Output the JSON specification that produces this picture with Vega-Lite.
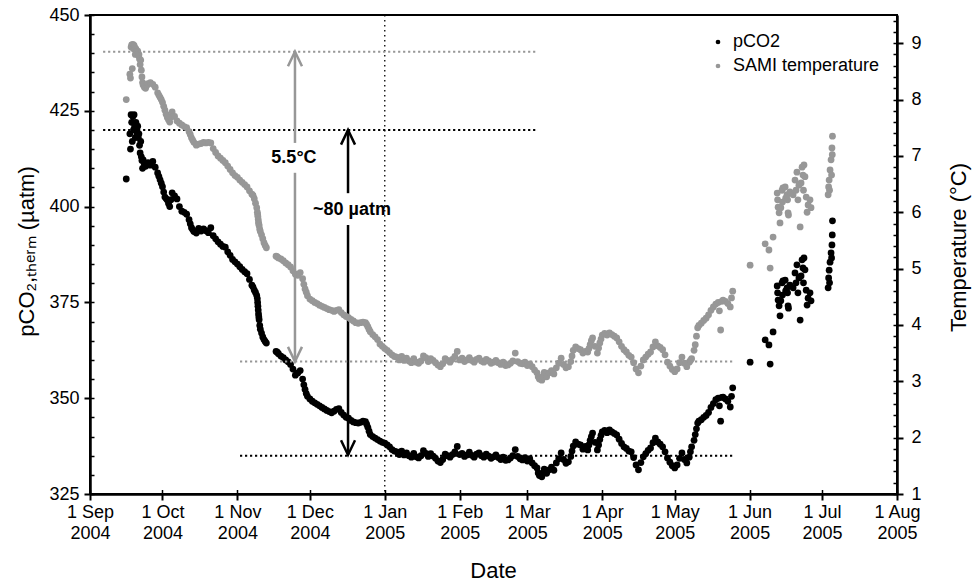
{
  "$schema": "https://vega.github.io/schema/vega-lite/v6.json",
  "width": 807,
  "height": 479,
  "autosize": {"type": "none"},
  "padding": {"left": 90, "top": 15, "right": 75, "bottom": 92},
  "background": "#ffffff",
  "config": {
    "font": "Liberation Sans",
    "view": {"stroke": "#000000", "strokeWidth": 2},
    "axis": {
      "grid": false,
      "domainColor": "#000000",
      "tickColor": "#000000",
      "labelColor": "#000000",
      "titleColor": "#000000",
      "labelFont": "Liberation Sans",
      "titleFont": "Liberation Sans",
      "labelFontSize": 18,
      "titleFontSize": 22,
      "titleFontWeight": "normal",
      "domainWidth": 2.5,
      "tickWidth": 2
    },
    "legend": {"labelFont": "Liberation Sans", "labelColor": "#000000"}
  },
  "datasets": {
    "series": [
      {"date": "2004-09-16T00:00", "pco2": 407.2, "temp": 8.0},
      {"date": "2004-09-17T12:00", "pco2": 419, "temp": 8.45},
      {"date": "2004-09-17T18:00", "pco2": 415, "temp": 8.38},
      {"date": "2004-09-18T00:00", "pco2": 424, "temp": 8.93},
      {"date": "2004-09-18T06:00", "pco2": 422, "temp": 8.97},
      {"date": "2004-09-18T12:00", "pco2": 417, "temp": 8.55},
      {"date": "2004-09-18T18:00", "pco2": 423.5, "temp": 8.98},
      {"date": "2004-09-19T00:00", "pco2": 420, "temp": 8.9},
      {"date": "2004-09-19T06:00", "pco2": 424, "temp": 8.96},
      {"date": "2004-09-19T12:00", "pco2": 421, "temp": 8.92},
      {"date": "2004-09-19T18:00", "pco2": 418, "temp": 8.8},
      {"date": "2004-09-20T00:00", "pco2": 422, "temp": 8.9},
      {"date": "2004-09-20T06:00", "pco2": 420, "temp": 8.85},
      {"date": "2004-09-20T12:00", "pco2": 419, "temp": 8.82},
      {"date": "2004-09-20T18:00", "pco2": 421, "temp": 8.86},
      {"date": "2004-09-21T00:00", "pco2": 418, "temp": 8.78},
      {"date": "2004-09-21T06:00", "pco2": 419, "temp": 8.8},
      {"date": "2004-09-21T12:00", "pco2": 416, "temp": 8.72},
      {"date": "2004-09-21T18:00", "pco2": 414, "temp": 8.62},
      {"date": "2004-09-22T00:00", "pco2": 417, "temp": 8.7},
      {"date": "2004-09-22T06:00", "pco2": 413, "temp": 8.52},
      {"date": "2004-09-22T12:00", "pco2": 412, "temp": 8.4},
      {"date": "2004-09-22T18:00", "pco2": 410, "temp": 8.3},
      {"date": "2004-09-23T00:00", "pco2": 412.2, "temp": 8.26},
      {"date": "2004-09-23T12:00", "pco2": 411.0, "temp": 8.22},
      {"date": "2004-09-24T00:00", "pco2": 410.5, "temp": 8.2},
      {"date": "2004-09-24T12:00", "pco2": 411.2, "temp": 8.25},
      {"date": "2004-09-25T00:00", "pco2": 411.5, "temp": 8.28},
      {"date": "2004-09-26T00:00", "pco2": 410.8, "temp": 8.3},
      {"date": "2004-09-27T00:00", "pco2": 411.8, "temp": 8.27},
      {"date": "2004-09-28T00:00", "pco2": 410.3, "temp": 8.22},
      {"date": "2004-09-29T00:00", "pco2": 408.8, "temp": 8.12},
      {"date": "2004-09-29T12:00", "pco2": 407.9, "temp": 8.08},
      {"date": "2004-09-30T00:00", "pco2": 407.0, "temp": 8.04},
      {"date": "2004-09-30T12:00", "pco2": 406.1, "temp": 8.0},
      {"date": "2004-10-01T00:00", "pco2": 405.2, "temp": 7.95},
      {"date": "2004-10-01T12:00", "pco2": 403.8, "temp": 7.88},
      {"date": "2004-10-02T00:00", "pco2": 402.5, "temp": 7.81},
      {"date": "2004-10-02T12:00", "pco2": 402.1, "temp": 7.74},
      {"date": "2004-10-03T00:00", "pco2": 401.7, "temp": 7.68},
      {"date": "2004-10-03T12:00", "pco2": 400.8, "temp": 7.64},
      {"date": "2004-10-04T00:00", "pco2": 400.0, "temp": 7.6},
      {"date": "2004-10-04T12:00", "pco2": 401.8, "temp": 7.69},
      {"date": "2004-10-05T00:00", "pco2": 403.6, "temp": 7.78},
      {"date": "2004-10-06T00:00", "pco2": 402.8, "temp": 7.7},
      {"date": "2004-10-07T00:00", "pco2": 402.0, "temp": 7.62},
      {"date": "2004-10-08T00:00", "pco2": 400.0, "temp": 7.58},
      {"date": "2004-10-09T00:00", "pco2": 398.8, "temp": 7.55},
      {"date": "2004-10-10T00:00", "pco2": 398.5, "temp": 7.52},
      {"date": "2004-10-11T00:00", "pco2": 398.0, "temp": 7.5},
      {"date": "2004-10-12T00:00", "pco2": 396.6, "temp": 7.43},
      {"date": "2004-10-12T12:00", "pco2": 395.5, "temp": 7.38},
      {"date": "2004-10-13T00:00", "pco2": 394.5, "temp": 7.32},
      {"date": "2004-10-13T12:00", "pco2": 394.0, "temp": 7.28},
      {"date": "2004-10-14T00:00", "pco2": 393.5, "temp": 7.24},
      {"date": "2004-10-15T00:00", "pco2": 393.1, "temp": 7.19},
      {"date": "2004-10-16T00:00", "pco2": 394.3, "temp": 7.21},
      {"date": "2004-10-17T00:00", "pco2": 393.6, "temp": 7.22},
      {"date": "2004-10-18T00:00", "pco2": 394.2, "temp": 7.24},
      {"date": "2004-10-19T00:00", "pco2": 393.7, "temp": 7.23},
      {"date": "2004-10-20T00:00", "pco2": 393.2, "temp": 7.24},
      {"date": "2004-10-21T00:00", "pco2": 394.5, "temp": 7.23},
      {"date": "2004-10-22T00:00", "pco2": 392.4, "temp": 7.13},
      {"date": "2004-10-23T00:00", "pco2": 391.6, "temp": 7.06},
      {"date": "2004-10-24T00:00", "pco2": 390.8, "temp": 7.0},
      {"date": "2004-10-25T00:00", "pco2": 390.2, "temp": 6.96},
      {"date": "2004-10-26T00:00", "pco2": 389.6, "temp": 6.92},
      {"date": "2004-10-27T00:00", "pco2": 389.4, "temp": 6.88},
      {"date": "2004-10-28T00:00", "pco2": 388.2, "temp": 6.82},
      {"date": "2004-10-29T00:00", "pco2": 387.3, "temp": 6.76},
      {"date": "2004-10-30T00:00", "pco2": 386.2, "temp": 6.7},
      {"date": "2004-10-31T00:00", "pco2": 385.6, "temp": 6.65},
      {"date": "2004-11-01T00:00", "pco2": 385.0, "temp": 6.62},
      {"date": "2004-11-02T00:00", "pco2": 384.3, "temp": 6.57},
      {"date": "2004-11-03T00:00", "pco2": 383.6, "temp": 6.53},
      {"date": "2004-11-04T00:00", "pco2": 383.0, "temp": 6.49},
      {"date": "2004-11-05T00:00", "pco2": 382.5, "temp": 6.45},
      {"date": "2004-11-06T00:00", "pco2": 381.0, "temp": 6.38},
      {"date": "2004-11-07T00:00", "pco2": 379.5, "temp": 6.32},
      {"date": "2004-11-07T12:00", "pco2": 379.0, "temp": 6.3},
      {"date": "2004-11-08T00:00", "pco2": 378.2, "temp": 6.24},
      {"date": "2004-11-08T12:00", "pco2": 377.6, "temp": 6.16},
      {"date": "2004-11-09T00:00", "pco2": 376.8, "temp": 6.08},
      {"date": "2004-11-09T06:00", "pco2": 376.0, "temp": 6.0},
      {"date": "2004-11-09T09:00", "pco2": 375.0, "temp": 5.96},
      {"date": "2004-11-09T12:00", "pco2": 374.0, "temp": 5.92},
      {"date": "2004-11-09T15:00", "pco2": 373.0, "temp": 5.87},
      {"date": "2004-11-09T18:00", "pco2": 372.0, "temp": 5.82},
      {"date": "2004-11-09T21:00", "pco2": 371.2, "temp": 5.79},
      {"date": "2004-11-10T00:00", "pco2": 370.5, "temp": 5.76},
      {"date": "2004-11-10T06:00", "pco2": 369.0, "temp": 5.7},
      {"date": "2004-11-10T12:00", "pco2": 368.0, "temp": 5.66},
      {"date": "2004-11-11T00:00", "pco2": 367.0, "temp": 5.6},
      {"date": "2004-11-11T12:00", "pco2": 366.0, "temp": 5.53},
      {"date": "2004-11-12T00:00", "pco2": 365.3, "temp": 5.46},
      {"date": "2004-11-12T12:00", "pco2": 364.8, "temp": 5.41},
      {"date": "2004-11-13T00:00", "pco2": 364.4, "temp": 5.37},
      {"date": "2004-11-17T00:00", "pco2": 362.2, "temp": 5.22},
      {"date": "2004-11-17T12:00", "pco2": 362.0, "temp": 5.21},
      {"date": "2004-11-18T00:00", "pco2": 361.6, "temp": 5.19},
      {"date": "2004-11-19T00:00", "pco2": 361.0, "temp": 5.17},
      {"date": "2004-11-20T00:00", "pco2": 360.6, "temp": 5.14},
      {"date": "2004-11-21T00:00", "pco2": 360.0, "temp": 5.1},
      {"date": "2004-11-22T00:00", "pco2": 359.5, "temp": 5.07},
      {"date": "2004-11-23T00:00", "pco2": 358.8, "temp": 5.03},
      {"date": "2004-11-24T00:00", "pco2": 357.6, "temp": 4.96},
      {"date": "2004-11-25T00:00", "pco2": 356.0, "temp": 4.9},
      {"date": "2004-11-26T00:00", "pco2": 356.6, "temp": 4.88},
      {"date": "2004-11-27T00:00", "pco2": 357.2, "temp": 4.93},
      {"date": "2004-11-28T00:00", "pco2": 355.0, "temp": 4.82},
      {"date": "2004-11-28T12:00", "pco2": 353.5, "temp": 4.72},
      {"date": "2004-11-29T00:00", "pco2": 352.3, "temp": 4.64},
      {"date": "2004-11-29T12:00", "pco2": 351.2, "temp": 4.58},
      {"date": "2004-11-30T00:00", "pco2": 350.5, "temp": 4.52},
      {"date": "2004-12-01T00:00", "pco2": 349.8, "temp": 4.46},
      {"date": "2004-12-02T00:00", "pco2": 349.2, "temp": 4.43},
      {"date": "2004-12-03T00:00", "pco2": 348.8, "temp": 4.4},
      {"date": "2004-12-04T00:00", "pco2": 348.4, "temp": 4.38},
      {"date": "2004-12-05T00:00", "pco2": 348.0, "temp": 4.35},
      {"date": "2004-12-06T00:00", "pco2": 347.6, "temp": 4.33},
      {"date": "2004-12-07T00:00", "pco2": 347.2, "temp": 4.31},
      {"date": "2004-12-08T00:00", "pco2": 346.8, "temp": 4.29},
      {"date": "2004-12-09T00:00", "pco2": 346.5, "temp": 4.27},
      {"date": "2004-12-10T00:00", "pco2": 346.2, "temp": 4.26},
      {"date": "2004-12-11T00:00", "pco2": 346.6, "temp": 4.24},
      {"date": "2004-12-12T00:00", "pco2": 347.1, "temp": 4.26},
      {"date": "2004-12-13T00:00", "pco2": 347.3, "temp": 4.27},
      {"date": "2004-12-14T00:00", "pco2": 346.3, "temp": 4.22},
      {"date": "2004-12-15T00:00", "pco2": 345.6, "temp": 4.18},
      {"date": "2004-12-16T00:00", "pco2": 345.0, "temp": 4.15},
      {"date": "2004-12-17T00:00", "pco2": 344.8, "temp": 4.13},
      {"date": "2004-12-18T00:00", "pco2": 344.2, "temp": 4.1},
      {"date": "2004-12-19T00:00", "pco2": 343.8, "temp": 4.07},
      {"date": "2004-12-20T00:00", "pco2": 343.6, "temp": 4.04},
      {"date": "2004-12-21T00:00", "pco2": 343.5, "temp": 4.03},
      {"date": "2004-12-22T00:00", "pco2": 343.7, "temp": 4.04},
      {"date": "2004-12-23T00:00", "pco2": 344.0, "temp": 4.05},
      {"date": "2004-12-24T00:00", "pco2": 343.9, "temp": 4.04},
      {"date": "2004-12-24T12:00", "pco2": 343.2, "temp": 4.01},
      {"date": "2004-12-25T00:00", "pco2": 342.4, "temp": 3.97},
      {"date": "2004-12-25T12:00", "pco2": 341.4, "temp": 3.92},
      {"date": "2004-12-26T00:00", "pco2": 340.5, "temp": 3.88},
      {"date": "2004-12-27T00:00", "pco2": 340.0, "temp": 3.83},
      {"date": "2004-12-28T00:00", "pco2": 339.6, "temp": 3.79},
      {"date": "2004-12-29T00:00", "pco2": 339.2, "temp": 3.74},
      {"date": "2004-12-30T00:00", "pco2": 338.8, "temp": 3.66},
      {"date": "2004-12-31T00:00", "pco2": 338.5, "temp": 3.62},
      {"date": "2005-01-01T00:00", "pco2": 338.3, "temp": 3.58},
      {"date": "2005-01-02T00:00", "pco2": 337.8, "temp": 3.55},
      {"date": "2005-01-03T00:00", "pco2": 337.3, "temp": 3.51},
      {"date": "2005-01-04T00:00", "pco2": 336.6, "temp": 3.47},
      {"date": "2005-01-05T00:00", "pco2": 336.2, "temp": 3.44},
      {"date": "2005-01-06T00:00", "pco2": 336.0, "temp": 3.43},
      {"date": "2005-01-07T00:00", "pco2": 335.3, "temp": 3.38},
      {"date": "2005-01-08T00:00", "pco2": 336.2, "temp": 3.44},
      {"date": "2005-01-09T00:00", "pco2": 335.2, "temp": 3.37},
      {"date": "2005-01-10T00:00", "pco2": 335.7, "temp": 3.41},
      {"date": "2005-01-11T00:00", "pco2": 335.0, "temp": 3.36},
      {"date": "2005-01-12T00:00", "pco2": 334.6, "temp": 3.33},
      {"date": "2005-01-13T00:00", "pco2": 335.6, "temp": 3.4},
      {"date": "2005-01-14T00:00", "pco2": 334.7, "temp": 3.34},
      {"date": "2005-01-15T00:00", "pco2": 334.4, "temp": 3.32},
      {"date": "2005-01-16T00:00", "pco2": 335.0, "temp": 3.36},
      {"date": "2005-01-17T00:00", "pco2": 336.3, "temp": 3.45},
      {"date": "2005-01-18T00:00", "pco2": 335.6, "temp": 3.42},
      {"date": "2005-01-19T00:00", "pco2": 334.8, "temp": 3.35},
      {"date": "2005-01-20T00:00", "pco2": 335.5, "temp": 3.4},
      {"date": "2005-01-21T00:00", "pco2": 334.9, "temp": 3.37},
      {"date": "2005-01-22T00:00", "pco2": 334.3, "temp": 3.33},
      {"date": "2005-01-23T00:00", "pco2": 333.6, "temp": 3.29},
      {"date": "2005-01-24T00:00", "pco2": 333.2, "temp": 3.26},
      {"date": "2005-01-25T00:00", "pco2": 334.0, "temp": 3.31},
      {"date": "2005-01-26T00:00", "pco2": 335.4, "temp": 3.4},
      {"date": "2005-01-27T00:00", "pco2": 335.0, "temp": 3.37},
      {"date": "2005-01-28T00:00", "pco2": 334.6, "temp": 3.34},
      {"date": "2005-01-29T00:00", "pco2": 335.3, "temp": 3.39},
      {"date": "2005-01-30T00:00", "pco2": 336.0, "temp": 3.44},
      {"date": "2005-01-31T00:00", "pco2": 337.4, "temp": 3.53},
      {"date": "2005-02-01T00:00", "pco2": 335.3, "temp": 3.38},
      {"date": "2005-02-02T00:00", "pco2": 335.6, "temp": 3.41},
      {"date": "2005-02-03T00:00", "pco2": 334.8, "temp": 3.35},
      {"date": "2005-02-04T00:00", "pco2": 335.2, "temp": 3.38},
      {"date": "2005-02-05T00:00", "pco2": 335.9, "temp": 3.42},
      {"date": "2005-02-06T00:00", "pco2": 335.1, "temp": 3.37},
      {"date": "2005-02-07T00:00", "pco2": 334.6, "temp": 3.34},
      {"date": "2005-02-08T00:00", "pco2": 335.4, "temp": 3.39},
      {"date": "2005-02-09T00:00", "pco2": 335.7, "temp": 3.41},
      {"date": "2005-02-10T00:00", "pco2": 335.0, "temp": 3.36},
      {"date": "2005-02-11T00:00", "pco2": 334.6, "temp": 3.34},
      {"date": "2005-02-12T00:00", "pco2": 335.4, "temp": 3.39},
      {"date": "2005-02-13T00:00", "pco2": 334.9, "temp": 3.36},
      {"date": "2005-02-14T00:00", "pco2": 334.3, "temp": 3.32},
      {"date": "2005-02-15T00:00", "pco2": 334.7, "temp": 3.34},
      {"date": "2005-02-16T00:00", "pco2": 335.2, "temp": 3.37},
      {"date": "2005-02-17T00:00", "pco2": 334.5, "temp": 3.33},
      {"date": "2005-02-18T00:00", "pco2": 334.0, "temp": 3.3},
      {"date": "2005-02-19T00:00", "pco2": 334.6, "temp": 3.34},
      {"date": "2005-02-20T00:00", "pco2": 333.8, "temp": 3.28},
      {"date": "2005-02-21T00:00", "pco2": 333.9, "temp": 3.29},
      {"date": "2005-02-22T00:00", "pco2": 334.4, "temp": 3.32},
      {"date": "2005-02-23T00:00", "pco2": 335.0, "temp": 3.36},
      {"date": "2005-02-24T00:00", "pco2": 336.6, "temp": 3.5},
      {"date": "2005-02-25T00:00", "pco2": 334.8, "temp": 3.35},
      {"date": "2005-02-26T00:00", "pco2": 334.2, "temp": 3.32},
      {"date": "2005-02-27T00:00", "pco2": 333.9, "temp": 3.31},
      {"date": "2005-02-28T00:00", "pco2": 334.5, "temp": 3.34},
      {"date": "2005-03-01T00:00", "pco2": 333.6, "temp": 3.28},
      {"date": "2005-03-02T00:00", "pco2": 334.2, "temp": 3.31},
      {"date": "2005-03-03T00:00", "pco2": 333.1, "temp": 3.26},
      {"date": "2005-03-04T00:00", "pco2": 332.4, "temp": 3.2},
      {"date": "2005-03-05T00:00", "pco2": 331.8, "temp": 3.15},
      {"date": "2005-03-05T12:00", "pco2": 330.5, "temp": 3.08},
      {"date": "2005-03-06T00:00", "pco2": 329.8, "temp": 3.04},
      {"date": "2005-03-07T00:00", "pco2": 329.5, "temp": 3.02},
      {"date": "2005-03-07T12:00", "pco2": 330.5, "temp": 3.09},
      {"date": "2005-03-08T00:00", "pco2": 331.5, "temp": 3.16},
      {"date": "2005-03-09T00:00", "pco2": 330.4, "temp": 3.08},
      {"date": "2005-03-10T00:00", "pco2": 331.3, "temp": 3.15},
      {"date": "2005-03-11T00:00", "pco2": 332.0, "temp": 3.19},
      {"date": "2005-03-12T00:00", "pco2": 331.2, "temp": 3.13},
      {"date": "2005-03-13T00:00", "pco2": 333.1, "temp": 3.24},
      {"date": "2005-03-14T00:00", "pco2": 334.2, "temp": 3.32},
      {"date": "2005-03-15T00:00", "pco2": 335.7, "temp": 3.41},
      {"date": "2005-03-16T00:00", "pco2": 334.0, "temp": 3.3},
      {"date": "2005-03-17T00:00", "pco2": 333.0, "temp": 3.24},
      {"date": "2005-03-18T00:00", "pco2": 333.4, "temp": 3.26},
      {"date": "2005-03-19T00:00", "pco2": 334.8, "temp": 3.35},
      {"date": "2005-03-19T12:00", "pco2": 336.2, "temp": 3.45},
      {"date": "2005-03-20T00:00", "pco2": 337.5, "temp": 3.55},
      {"date": "2005-03-21T00:00", "pco2": 338.6, "temp": 3.61},
      {"date": "2005-03-22T00:00", "pco2": 338.0, "temp": 3.58},
      {"date": "2005-03-23T00:00", "pco2": 337.8, "temp": 3.56},
      {"date": "2005-03-24T00:00", "pco2": 336.7, "temp": 3.5},
      {"date": "2005-03-25T00:00", "pco2": 337.4, "temp": 3.53},
      {"date": "2005-03-26T00:00", "pco2": 336.5, "temp": 3.52},
      {"date": "2005-03-26T12:00", "pco2": 337.8, "temp": 3.58},
      {"date": "2005-03-27T00:00", "pco2": 339.0, "temp": 3.65},
      {"date": "2005-03-27T12:00", "pco2": 340.0, "temp": 3.72},
      {"date": "2005-03-28T00:00", "pco2": 340.9, "temp": 3.77},
      {"date": "2005-03-29T00:00", "pco2": 338.5, "temp": 3.62},
      {"date": "2005-03-30T00:00", "pco2": 336.5, "temp": 3.5},
      {"date": "2005-03-30T12:00", "pco2": 337.8, "temp": 3.59},
      {"date": "2005-03-31T00:00", "pco2": 339.2, "temp": 3.68},
      {"date": "2005-03-31T12:00", "pco2": 340.3, "temp": 3.75},
      {"date": "2005-04-01T00:00", "pco2": 341.2, "temp": 3.82},
      {"date": "2005-04-02T00:00", "pco2": 341.6, "temp": 3.85},
      {"date": "2005-04-03T00:00", "pco2": 341.0, "temp": 3.82},
      {"date": "2005-04-04T00:00", "pco2": 341.7, "temp": 3.86},
      {"date": "2005-04-05T00:00", "pco2": 341.2, "temp": 3.83},
      {"date": "2005-04-06T00:00", "pco2": 340.8, "temp": 3.8},
      {"date": "2005-04-07T00:00", "pco2": 340.4, "temp": 3.77},
      {"date": "2005-04-08T00:00", "pco2": 339.3, "temp": 3.7},
      {"date": "2005-04-09T00:00", "pco2": 338.2, "temp": 3.62},
      {"date": "2005-04-10T00:00", "pco2": 337.3, "temp": 3.56},
      {"date": "2005-04-11T00:00", "pco2": 336.9, "temp": 3.52},
      {"date": "2005-04-12T00:00", "pco2": 336.2, "temp": 3.46},
      {"date": "2005-04-13T00:00", "pco2": 336.0, "temp": 3.43},
      {"date": "2005-04-14T00:00", "pco2": 334.5, "temp": 3.33},
      {"date": "2005-04-15T00:00", "pco2": 332.6, "temp": 3.22},
      {"date": "2005-04-16T00:00", "pco2": 331.3, "temp": 3.15},
      {"date": "2005-04-17T00:00", "pco2": 333.2, "temp": 3.27},
      {"date": "2005-04-18T00:00", "pco2": 334.7, "temp": 3.38},
      {"date": "2005-04-19T00:00", "pco2": 335.5, "temp": 3.43},
      {"date": "2005-04-20T00:00", "pco2": 336.4, "temp": 3.48},
      {"date": "2005-04-21T00:00", "pco2": 337.0, "temp": 3.52},
      {"date": "2005-04-22T00:00", "pco2": 338.4, "temp": 3.61},
      {"date": "2005-04-23T00:00", "pco2": 339.6, "temp": 3.7},
      {"date": "2005-04-24T00:00", "pco2": 338.6, "temp": 3.63},
      {"date": "2005-04-25T00:00", "pco2": 338.0, "temp": 3.6},
      {"date": "2005-04-26T00:00", "pco2": 337.3, "temp": 3.56},
      {"date": "2005-04-27T00:00", "pco2": 336.0, "temp": 3.47},
      {"date": "2005-04-28T00:00", "pco2": 334.4, "temp": 3.34},
      {"date": "2005-04-29T00:00", "pco2": 333.3, "temp": 3.27},
      {"date": "2005-04-30T00:00", "pco2": 332.4, "temp": 3.21},
      {"date": "2005-05-01T00:00", "pco2": 331.8, "temp": 3.17},
      {"date": "2005-05-02T00:00", "pco2": 332.6, "temp": 3.22},
      {"date": "2005-05-03T00:00", "pco2": 334.3, "temp": 3.33},
      {"date": "2005-05-04T00:00", "pco2": 335.7, "temp": 3.43},
      {"date": "2005-05-05T00:00", "pco2": 334.0, "temp": 3.32},
      {"date": "2005-05-06T00:00", "pco2": 333.1, "temp": 3.26},
      {"date": "2005-05-07T00:00", "pco2": 334.6, "temp": 3.34},
      {"date": "2005-05-07T12:00", "pco2": 336.0, "temp": 3.37},
      {"date": "2005-05-08T00:00", "pco2": 337.3, "temp": 3.4},
      {"date": "2005-05-09T00:00", "pco2": 339.0, "temp": 3.55},
      {"date": "2005-05-09T12:00", "pco2": 340.5, "temp": 3.65},
      {"date": "2005-05-10T00:00", "pco2": 342.0, "temp": 3.8},
      {"date": "2005-05-10T12:00", "pco2": 343.5, "temp": 3.95},
      {"date": "2005-05-11T00:00", "pco2": 344.0, "temp": 3.99},
      {"date": "2005-05-12T00:00", "pco2": 344.4, "temp": 4.03},
      {"date": "2005-05-13T00:00", "pco2": 345.0, "temp": 4.08},
      {"date": "2005-05-14T00:00", "pco2": 345.5, "temp": 4.12},
      {"date": "2005-05-15T00:00", "pco2": 346.3, "temp": 4.18},
      {"date": "2005-05-16T00:00", "pco2": 347.6, "temp": 4.26},
      {"date": "2005-05-17T00:00", "pco2": 348.6, "temp": 4.32},
      {"date": "2005-05-18T00:00", "pco2": 349.6, "temp": 4.37},
      {"date": "2005-05-19T00:00", "pco2": 350.0, "temp": 4.4},
      {"date": "2005-05-19T12:00", "pco2": 348.0, "temp": 4.25},
      {"date": "2005-05-20T00:00", "pco2": 344.0, "temp": 3.91},
      {"date": "2005-05-20T12:00", "pco2": 350.2, "temp": 4.42},
      {"date": "2005-05-21T00:00", "pco2": 350.3, "temp": 4.44},
      {"date": "2005-05-22T00:00", "pco2": 349.8, "temp": 4.42},
      {"date": "2005-05-23T00:00", "pco2": 349.2, "temp": 4.38},
      {"date": "2005-05-24T00:00", "pco2": 347.7, "temp": 4.32},
      {"date": "2005-05-24T12:00", "pco2": 350.5, "temp": 4.48},
      {"date": "2005-05-25T00:00", "pco2": 352.7, "temp": 4.6},
      {"date": "2005-06-01T05:00", "pco2": 359.4, "temp": 5.06},
      {"date": "2005-06-07T10:00", "pco2": 365.2, "temp": 5.44},
      {"date": "2005-06-09T00:00", "pco2": 363.9, "temp": 5.33},
      {"date": "2005-06-09T12:00", "pco2": 358.9, "temp": 5.01},
      {"date": "2005-06-10T17:00", "pco2": 367.3, "temp": 5.56},
      {"date": "2005-06-12T10:00", "pco2": 379.3, "temp": 6.34},
      {"date": "2005-06-12T14:00", "pco2": 377.5, "temp": 6.22},
      {"date": "2005-06-12T19:00", "pco2": 375.6, "temp": 6.09},
      {"date": "2005-06-13T05:00", "pco2": 374.1, "temp": 5.99},
      {"date": "2005-06-13T14:00", "pco2": 371.5, "temp": 5.81},
      {"date": "2005-06-13T22:00", "pco2": 375.4, "temp": 6.08},
      {"date": "2005-06-14T10:00", "pco2": 380.1, "temp": 6.39},
      {"date": "2005-06-14T14:00", "pco2": 376.9, "temp": 6.18},
      {"date": "2005-06-14T19:00", "pco2": 380.6, "temp": 6.43},
      {"date": "2005-06-15T17:00", "pco2": 380.8, "temp": 6.45},
      {"date": "2005-06-15T22:00", "pco2": 378.0, "temp": 6.25},
      {"date": "2005-06-16T12:00", "pco2": 378.8, "temp": 6.31},
      {"date": "2005-06-16T17:00", "pco2": 377.5, "temp": 6.22},
      {"date": "2005-06-16T22:00", "pco2": 374.1, "temp": 5.99},
      {"date": "2005-06-17T02:00", "pco2": 373.5, "temp": 5.95},
      {"date": "2005-06-17T17:00", "pco2": 379.5, "temp": 6.36},
      {"date": "2005-06-19T00:00", "pco2": 378.8, "temp": 6.31},
      {"date": "2005-06-19T19:00", "pco2": 382.7, "temp": 6.57},
      {"date": "2005-06-20T05:00", "pco2": 380.1, "temp": 6.39},
      {"date": "2005-06-20T14:00", "pco2": 384.8, "temp": 6.71},
      {"date": "2005-06-21T00:00", "pco2": 377.5, "temp": 6.22},
      {"date": "2005-06-21T10:00", "pco2": 381.4, "temp": 6.48},
      {"date": "2005-06-21T22:00", "pco2": 370.4, "temp": 5.74},
      {"date": "2005-06-22T07:00", "pco2": 381.9, "temp": 6.52},
      {"date": "2005-06-22T17:00", "pco2": 386.1, "temp": 6.8},
      {"date": "2005-06-23T02:00", "pco2": 384.0, "temp": 6.66},
      {"date": "2005-06-23T07:00", "pco2": 380.1, "temp": 6.39},
      {"date": "2005-06-23T12:00", "pco2": 386.6, "temp": 6.84},
      {"date": "2005-06-23T22:00", "pco2": 383.5, "temp": 6.63},
      {"date": "2005-06-24T10:00", "pco2": 378.2, "temp": 6.27},
      {"date": "2005-06-24T19:00", "pco2": 374.3, "temp": 6.0},
      {"date": "2005-06-25T05:00", "pco2": 376.1, "temp": 6.13},
      {"date": "2005-06-26T00:00", "pco2": 377.5, "temp": 6.22},
      {"date": "2005-06-26T10:00", "pco2": 375.4, "temp": 6.08},
      {"date": "2005-07-03T12:00", "pco2": 378.8, "temp": 6.31},
      {"date": "2005-07-03T17:00", "pco2": 381.4, "temp": 6.45},
      {"date": "2005-07-03T22:00", "pco2": 383.4, "temp": 6.57},
      {"date": "2005-07-04T02:00", "pco2": 380.1, "temp": 6.39},
      {"date": "2005-07-04T07:00", "pco2": 385.5, "temp": 6.75},
      {"date": "2005-07-04T17:00", "pco2": 387.9, "temp": 6.93},
      {"date": "2005-07-04T22:00", "pco2": 386.6, "temp": 6.66},
      {"date": "2005-07-05T02:00", "pco2": 390.0, "temp": 7.14},
      {"date": "2005-07-05T05:00", "pco2": 392.6, "temp": 7.02},
      {"date": "2005-07-05T07:00", "pco2": 396.3, "temp": 7.35}
    ]
  },
  "layer": [
    {
      "layer": [
        {
          "data": {"name": "series"},
          "mark": {"type": "circle", "size": 46, "opacity": 1},
          "encoding": {
            "x": {
              "field": "date",
              "type": "temporal",
              "scale": {"domain": [{"year": 2004, "month": 9, "date": 1}, {"year": 2005, "month": 8, "date": 1}], "nice": false},
              "axis": {
                "orient": "bottom",
                "values": [
                  {"year": 2004, "month": 9, "date": 1}, {"year": 2004, "month": 10, "date": 1},
                  {"year": 2004, "month": 11, "date": 1}, {"year": 2004, "month": 12, "date": 1},
                  {"year": 2005, "month": 1, "date": 1}, {"year": 2005, "month": 2, "date": 1},
                  {"year": 2005, "month": 3, "date": 1}, {"year": 2005, "month": 4, "date": 1},
                  {"year": 2005, "month": 5, "date": 1}, {"year": 2005, "month": 6, "date": 1},
                  {"year": 2005, "month": 7, "date": 1}, {"year": 2005, "month": 8, "date": 1}
                ],
                "labelExpr": "[timeFormat(datum.value, '%-d %b'), timeFormat(datum.value, '%Y')]",
                "labelLineHeight": 21,
                "labelPadding": 3,
                "labelFlush": false,
                "labelOverlap": false,
                "tickSize": 6,
                "title": "Date",
                "titleX": 403,
                "titleY": 76,
                "titleBaseline": "middle",
                "titleAlign": "center"
              }
            },
            "y": {
              "field": "pco2",
              "type": "quantitative",
              "scale": {"domain": [325, 450], "nice": false, "zero": false},
              "axis": {
                "orient": "left",
                "values": [325, 350, 375, 400, 425, 450],
                "tickSize": 6,
                "labelPadding": 5,
                "title": "pCO₂,ₜₕₑᵣₘ (µatm)",
                "titleAngle": 270,
                "titleX": -64,
                "titleY": 236,
                "titleBaseline": "middle",
                "titleAlign": "center"
              }
            },
            "color": {
              "datum": "pCO2",
              "type": "nominal",
              "scale": {"domain": ["pCO2", "SAMI temperature"], "range": ["#000000", "#979797"]},
              "legend": {
                "title": null,
                "orient": "none",
                "legendX": 619,
                "legendY": 18,
                "symbolType": "circle",
                "symbolSize": 22,
                "symbolStrokeWidth": 0,
                "labelFontSize": 18,
                "labelOffset": 6,
                "rowPadding": 6
              }
            }
          }
        },
        {
          "data": {"values": [
            {"start": "2004-09-06T10:00", "end": "2005-03-05T10:00", "level": 420},
            {"start": "2004-11-02T02:00", "end": "2005-05-25T02:00", "level": 335}
          ]},
          "mark": {"type": "rule", "color": "#000000", "strokeWidth": 2, "strokeDash": [2.2, 2.8]},
          "encoding": {
            "x": {"field": "start", "type": "temporal"},
            "x2": {"field": "end"},
            "y": {
              "field": "level",
              "type": "quantitative",
              "axis": {
                "orient": "left",
                "values": [325, 330, 335, 340, 345, 350, 355, 360, 365, 370, 375, 380, 385, 390, 395, 400, 405, 410, 415, 420, 425, 430, 435, 440, 445, 450],
                "tickSize": -4,
                "tickWidth": 1.5,
                "labels": false,
                "domain": false,
                "title": null
              }
            }
          }
        },
        {
          "data": {"values": [{"date": "2005-01-01T00:00"}]},
          "mark": {"type": "rule", "color": "#000000", "strokeWidth": 1.3, "strokeDash": [1.5, 3.5]},
          "encoding": {"x": {"field": "date", "type": "temporal"}}
        },
        {
          "data": {"values": [
            {"date": "2004-12-16T19:00", "from": 420, "to": 403.5},
            {"date": "2004-12-16T19:00", "from": 395.2, "to": 335.2}
          ]},
          "mark": {"type": "rule", "color": "#000000", "strokeWidth": 2.5},
          "encoding": {
            "x": {"field": "date", "type": "temporal"},
            "y": {"field": "from", "type": "quantitative", "axis": null},
            "y2": {"field": "to"}
          }
        },
        {
          "data": {"values": [
            {"date": "2004-12-16T19:00", "value": 420, "tip": "up"},
            {"date": "2004-12-16T19:00", "value": 335.2, "tip": "down"}
          ]},
          "mark": {"type": "point", "filled": false, "color": "#000000", "strokeWidth": 2.5, "size": 196, "opacity": 1},
          "encoding": {
            "x": {"field": "date", "type": "temporal"},
            "y": {"field": "value", "type": "quantitative", "axis": null},
            "shape": {
              "field": "tip",
              "type": "nominal",
              "scale": {"domain": ["up", "down"], "range": ["M-1,2.1L0,0L1,2.1", "M-1,-2.1L0,0L1,-2.1"]},
              "legend": null
            }
          }
        },
        {
          "data": {"values": [{"date": "2004-12-18T10:00", "value": 399.1, "label": "~80 µatm"}]},
          "mark": {"type": "text", "font": "Liberation Sans", "fontSize": 18, "fontWeight": "bold", "align": "center", "baseline": "middle", "color": "#000000"},
          "encoding": {
            "x": {"field": "date", "type": "temporal"},
            "y": {"field": "value", "type": "quantitative", "axis": null},
            "text": {"field": "label"}
          }
        }
      ],
      "resolve": {"axis": {"y": "independent"}}
    },
    {
      "layer": [
        {
          "data": {"name": "series"},
          "mark": {"type": "circle", "size": 46, "opacity": 1},
          "encoding": {
            "x": {
              "field": "date",
              "type": "temporal",
              "scale": {"domain": [{"year": 2004, "month": 9, "date": 1}, {"year": 2005, "month": 8, "date": 1}], "nice": false},
              "axis": {
                "orient": "bottom",
                "values": [
                  {"year": 2004, "month": 9, "date": 1}, {"year": 2004, "month": 9, "date": 8, "hours": 12}, {"year": 2004, "month": 9, "date": 16}, {"year": 2004, "month": 9, "date": 23, "hours": 12},
                  {"year": 2004, "month": 10, "date": 1}, {"year": 2004, "month": 10, "date": 8, "hours": 12}, {"year": 2004, "month": 10, "date": 16}, {"year": 2004, "month": 10, "date": 23, "hours": 12},
                  {"year": 2004, "month": 11, "date": 1}, {"year": 2004, "month": 11, "date": 8, "hours": 12}, {"year": 2004, "month": 11, "date": 16}, {"year": 2004, "month": 11, "date": 23, "hours": 12},
                  {"year": 2004, "month": 12, "date": 1}, {"year": 2004, "month": 12, "date": 8, "hours": 12}, {"year": 2004, "month": 12, "date": 16}, {"year": 2004, "month": 12, "date": 23, "hours": 12},
                  {"year": 2005, "month": 1, "date": 1}, {"year": 2005, "month": 1, "date": 8, "hours": 12}, {"year": 2005, "month": 1, "date": 16}, {"year": 2005, "month": 1, "date": 23, "hours": 12},
                  {"year": 2005, "month": 2, "date": 1}, {"year": 2005, "month": 2, "date": 8}, {"year": 2005, "month": 2, "date": 15}, {"year": 2005, "month": 2, "date": 22},
                  {"year": 2005, "month": 3, "date": 1}, {"year": 2005, "month": 3, "date": 8, "hours": 12}, {"year": 2005, "month": 3, "date": 16}, {"year": 2005, "month": 3, "date": 23, "hours": 12},
                  {"year": 2005, "month": 4, "date": 1}, {"year": 2005, "month": 4, "date": 8, "hours": 12}, {"year": 2005, "month": 4, "date": 16}, {"year": 2005, "month": 4, "date": 23, "hours": 12},
                  {"year": 2005, "month": 5, "date": 1}, {"year": 2005, "month": 5, "date": 8, "hours": 12}, {"year": 2005, "month": 5, "date": 16}, {"year": 2005, "month": 5, "date": 23, "hours": 12},
                  {"year": 2005, "month": 6, "date": 1}, {"year": 2005, "month": 6, "date": 8, "hours": 12}, {"year": 2005, "month": 6, "date": 16}, {"year": 2005, "month": 6, "date": 23, "hours": 12},
                  {"year": 2005, "month": 7, "date": 1}, {"year": 2005, "month": 7, "date": 8, "hours": 12}, {"year": 2005, "month": 7, "date": 16}, {"year": 2005, "month": 7, "date": 23, "hours": 12},
                  {"year": 2005, "month": 8, "date": 1}
                ],
                "tickSize": -4.5,
                "tickWidth": 1.5,
                "labels": false,
                "domain": false,
                "title": null
              }
            },
            "y": {
              "field": "temp",
              "type": "quantitative",
              "scale": {"domain": [1, 9.5], "nice": false, "zero": false},
              "axis": {
                "orient": "right",
                "values": [1, 2, 3, 4, 5, 6, 7, 8, 9],
                "tickSize": 6,
                "labelPadding": 8,
                "title": "Temperature (°C)",
                "titleAngle": 270,
                "titleX": 61,
                "titleY": 232,
                "titleBaseline": "middle",
                "titleAlign": "center"
              }
            },
            "color": {"datum": "SAMI temperature", "type": "nominal"}
          }
        },
        {
          "data": {"values": [
            {"start": "2004-09-06T10:00", "end": "2005-03-05T10:00", "level": 8.85},
            {"start": "2004-11-02T02:00", "end": "2005-05-25T02:00", "level": 3.35}
          ]},
          "mark": {"type": "rule", "color": "#979797", "strokeWidth": 2, "strokeDash": [2.2, 2.8]},
          "encoding": {
            "x": {"field": "start", "type": "temporal"},
            "x2": {"field": "end"},
            "y": {
              "field": "level",
              "type": "quantitative",
              "axis": {
                "orient": "right",
                "values": [1, 1.2, 1.4, 1.6, 1.8, 2, 2.2, 2.4, 2.6, 2.8, 3, 3.2, 3.4, 3.6, 3.8, 4, 4.2, 4.4, 4.6, 4.8, 5, 5.2, 5.4, 5.6, 5.8, 6, 6.2, 6.4, 6.6, 6.8, 7, 7.2, 7.4, 7.6, 7.8, 8, 8.2, 8.4, 8.6, 8.8, 9, 9.2, 9.4],
                "tickSize": -4,
                "tickWidth": 1.5,
                "labels": false,
                "domain": false,
                "title": null
              }
            }
          }
        },
        {
          "data": {"values": [
            {"date": "2004-11-24T20:00", "from": 8.85, "to": 7.23},
            {"date": "2004-11-24T20:00", "from": 6.7, "to": 3.35}
          ]},
          "mark": {"type": "rule", "color": "#979797", "strokeWidth": 2.5},
          "encoding": {
            "x": {"field": "date", "type": "temporal"},
            "y": {"field": "from", "type": "quantitative", "axis": null},
            "y2": {"field": "to"}
          }
        },
        {
          "data": {"values": [
            {"date": "2004-11-24T20:00", "value": 8.85, "tip": "up"},
            {"date": "2004-11-24T20:00", "value": 3.35, "tip": "down"}
          ]},
          "mark": {"type": "point", "filled": false, "color": "#979797", "strokeWidth": 2.5, "size": 196, "opacity": 1},
          "encoding": {
            "x": {"field": "date", "type": "temporal"},
            "y": {"field": "value", "type": "quantitative", "axis": null},
            "shape": {"field": "tip", "type": "nominal", "legend": null}
          }
        },
        {
          "data": {"values": [{"date": "2004-11-24T10:00", "value": 6.96, "label": "5.5°C"}]},
          "mark": {"type": "text", "font": "Liberation Sans", "fontSize": 18, "fontWeight": "bold", "align": "center", "baseline": "middle", "color": "#000000"},
          "encoding": {
            "x": {"field": "date", "type": "temporal"},
            "y": {"field": "value", "type": "quantitative", "axis": null},
            "text": {"field": "label"}
          }
        }
      ],
      "resolve": {"axis": {"y": "independent"}}
    }
  ],
  "resolve": {"scale": {"y": "independent"}, "axis": {"x": "independent"}}
}
